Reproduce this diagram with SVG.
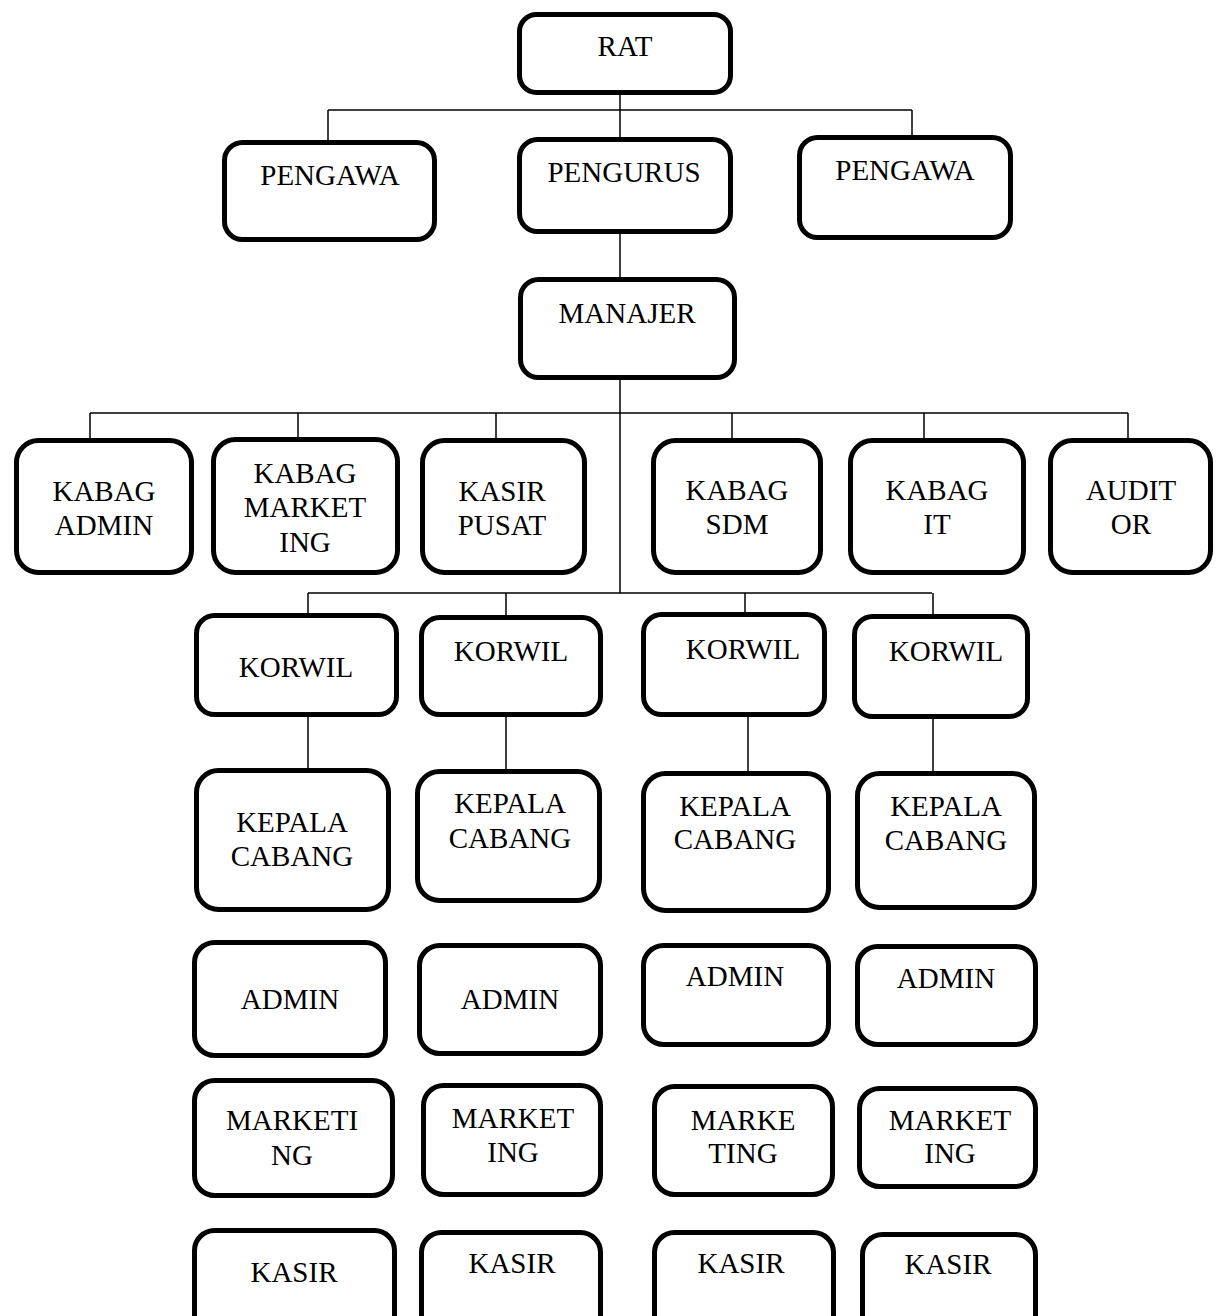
<svg xmlns="http://www.w3.org/2000/svg" width="1216" height="1316" viewBox="0 0 1216 1316">
<style>
.box rect{fill:#fff;stroke:#000;stroke-width:5}
.box text{font-family:"Liberation Serif","Times New Roman",serif;font-size:29px;fill:#000;text-anchor:middle}
#connectors line{stroke:#000;stroke-width:1.5}
</style>
<rect width="1216" height="1316" fill="#fff"/>
<g id="connectors">
<line x1="620" y1="95" x2="620" y2="137"/>
<line x1="328" y1="110" x2="912" y2="110"/>
<line x1="328" y1="110" x2="328" y2="140"/>
<line x1="912" y1="110" x2="912" y2="135"/>
<line x1="620" y1="234" x2="620" y2="277"/>
<line x1="620" y1="380" x2="620" y2="593"/>
<line x1="90" y1="413" x2="1128" y2="413"/>
<line x1="90" y1="413" x2="90" y2="438"/>
<line x1="298" y1="413" x2="298" y2="437"/>
<line x1="496" y1="413" x2="496" y2="438"/>
<line x1="732" y1="413" x2="732" y2="438"/>
<line x1="924" y1="413" x2="924" y2="438"/>
<line x1="1128" y1="413" x2="1128" y2="438"/>
<line x1="308" y1="593" x2="932" y2="593"/>
<line x1="308" y1="593" x2="308" y2="613"/>
<line x1="506" y1="593" x2="506" y2="615"/>
<line x1="745" y1="593" x2="745" y2="612"/>
<line x1="933" y1="593" x2="933" y2="614"/>
<line x1="308" y1="717" x2="308" y2="768"/>
<line x1="506" y1="717" x2="506" y2="769"/>
<line x1="748" y1="717" x2="748" y2="771"/>
<line x1="933" y1="719" x2="933" y2="771"/>
</g>
<g id="rat" class="box"><rect x="519.5" y="14.5" width="211" height="78" rx="17"/><text x="625" y="56">RAT</text></g>
<g id="pengawa1" class="box"><rect x="224.5" y="142.5" width="210" height="97" rx="18"/><text x="330" y="185">PENGAWA</text></g>
<g id="pengurus" class="box"><rect x="519.5" y="139.5" width="211" height="92" rx="18"/><text x="624" y="182">PENGURUS</text></g>
<g id="pengawa2" class="box"><rect x="799.5" y="137.5" width="211" height="100" rx="18"/><text x="905" y="180">PENGAWA</text></g>
<g id="manajer" class="box"><rect x="520.5" y="279.5" width="214" height="98" rx="18"/><text x="627" y="323">MANAJER</text></g>
<g id="kabag-admin" class="box"><rect x="16.5" y="440.5" width="175" height="132" rx="22"/><text x="104" y="501">KABAG</text><text x="104" y="535">ADMIN</text></g>
<g id="kabag-marketing" class="box"><rect x="213.5" y="439.5" width="184" height="133" rx="22"/><text x="305" y="483">KABAG</text><text x="305" y="517">MARKET</text><text x="305" y="552">ING</text></g>
<g id="kasir-pusat" class="box"><rect x="422.5" y="440.5" width="162" height="132" rx="22"/><text x="502" y="501">KASIR</text><text x="502" y="535">PUSAT</text></g>
<g id="kabag-sdm" class="box"><rect x="653.5" y="440.5" width="167" height="132" rx="22"/><text x="737" y="500">KABAG</text><text x="737" y="534">SDM</text></g>
<g id="kabag-it" class="box"><rect x="850.5" y="440.5" width="173" height="132" rx="22"/><text x="937" y="500">KABAG</text><text x="937" y="534">IT</text></g>
<g id="auditor" class="box"><rect x="1050.5" y="440.5" width="160" height="132" rx="22"/><text x="1131" y="500">AUDIT</text><text x="1131" y="534">OR</text></g>
<g id="korwil1" class="box"><rect x="196.5" y="615.5" width="200" height="99" rx="18"/><text x="296" y="677">KORWIL</text></g>
<g id="korwil2" class="box"><rect x="421.5" y="617.5" width="179" height="97" rx="18"/><text x="511" y="661">KORWIL</text></g>
<g id="korwil3" class="box"><rect x="643.5" y="614.5" width="181" height="100" rx="18"/><text x="743" y="659">KORWIL</text></g>
<g id="korwil4" class="box"><rect x="854.5" y="616.5" width="173" height="100" rx="18"/><text x="946" y="661">KORWIL</text></g>
<g id="kc1" class="box"><rect x="196.5" y="770.5" width="192" height="139" rx="22"/><text x="292" y="832">KEPALA</text><text x="292" y="866">CABANG</text></g>
<g id="kc2" class="box"><rect x="417.5" y="771.5" width="182" height="129" rx="22"/><text x="510" y="813">KEPALA</text><text x="510" y="848">CABANG</text></g>
<g id="kc3" class="box"><rect x="643.5" y="773.5" width="185" height="137" rx="22"/><text x="735" y="816">KEPALA</text><text x="735" y="849">CABANG</text></g>
<g id="kc4" class="box"><rect x="857.5" y="773.5" width="177" height="134" rx="22"/><text x="946" y="816">KEPALA</text><text x="946" y="850">CABANG</text></g>
<g id="admin1" class="box"><rect x="194.5" y="942.5" width="191" height="113" rx="20"/><text x="290" y="1009">ADMIN</text></g>
<g id="admin2" class="box"><rect x="419.5" y="945.5" width="181" height="108" rx="20"/><text x="510" y="1009">ADMIN</text></g>
<g id="admin3" class="box"><rect x="643.5" y="945.5" width="185" height="99" rx="20"/><text x="735" y="986">ADMIN</text></g>
<g id="admin4" class="box"><rect x="857.5" y="946.5" width="178" height="98" rx="20"/><text x="946" y="988">ADMIN</text></g>
<g id="marketing1" class="box"><rect x="194.5" y="1080.5" width="198" height="115" rx="20"/><text x="292" y="1130">MARKETI</text><text x="292" y="1165">NG</text></g>
<g id="marketing2" class="box"><rect x="423.5" y="1085.5" width="177" height="109" rx="20"/><text x="513" y="1128">MARKET</text><text x="513" y="1162">ING</text></g>
<g id="marketing3" class="box"><rect x="654.5" y="1086.5" width="178" height="108" rx="20"/><text x="743" y="1130">MARKE</text><text x="743" y="1163">TING</text></g>
<g id="marketing4" class="box"><rect x="859.5" y="1088.5" width="176" height="98" rx="20"/><text x="950" y="1130">MARKET</text><text x="950" y="1163">ING</text></g>
<g id="kasir1" class="box"><rect x="194.5" y="1230.5" width="200" height="120" rx="20"/><text x="294" y="1282">KASIR</text></g>
<g id="kasir2" class="box"><rect x="421.5" y="1232.5" width="179" height="120" rx="20"/><text x="512" y="1273">KASIR</text></g>
<g id="kasir3" class="box"><rect x="654.5" y="1232.5" width="179" height="120" rx="20"/><text x="741" y="1273">KASIR</text></g>
<g id="kasir4" class="box"><rect x="862.5" y="1234.5" width="173" height="120" rx="20"/><text x="948" y="1274">KASIR</text></g>
</svg>
